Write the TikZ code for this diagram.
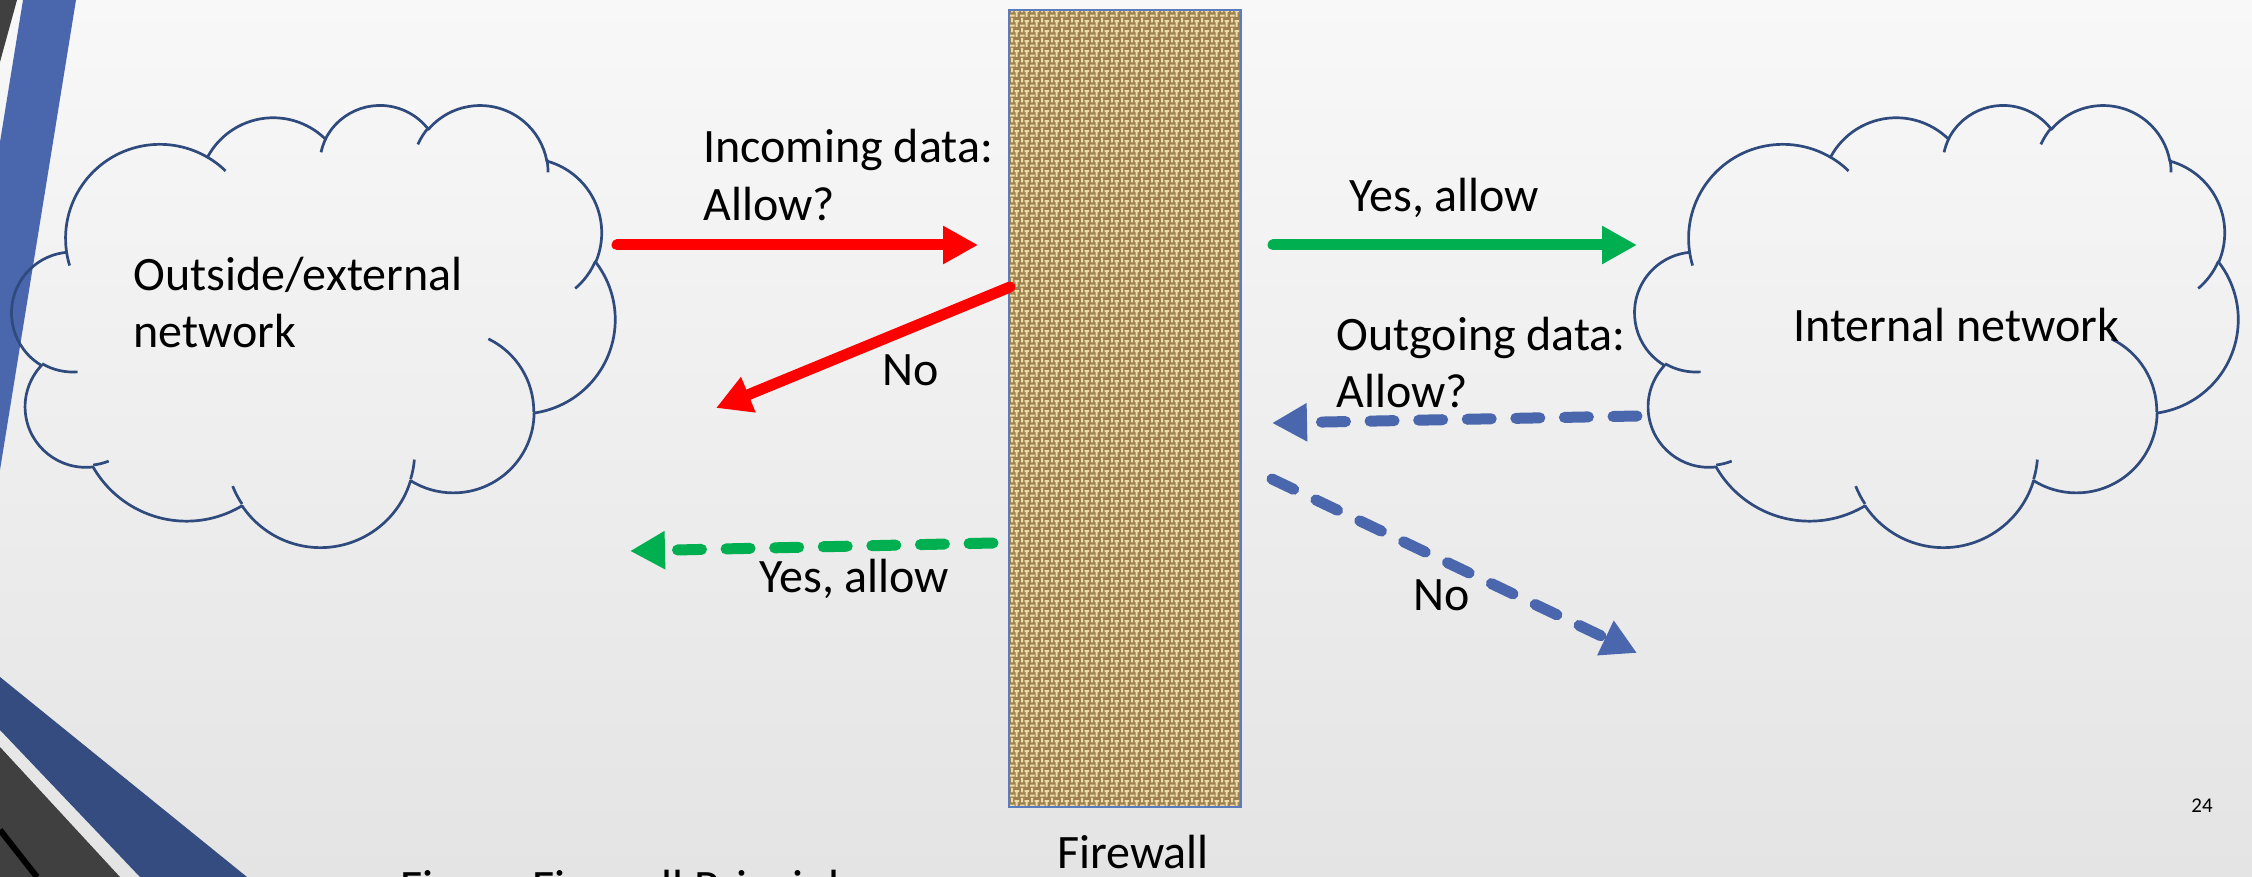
\documentclass[tikz,border=0pt]{standalone}
\usepackage{fontspec}
\setmainfont{Carlito}
\usetikzlibrary{arrows.meta,patterns}
\definecolor{bgtop}{RGB}{248,248,248}
\definecolor{bgbot}{RGB}{228,228,228}
\definecolor{decoblue}{RGB}{74,103,174}
\definecolor{decoblueD}{RGB}{53,76,128}
\definecolor{decogray}{RGB}{64,64,64}
\definecolor{cloudc}{RGB}{47,74,125}
\definecolor{arrred}{RGB}{255,0,0}
\definecolor{arrgreen}{RGB}{0,176,80}
\definecolor{arrblue}{RGB}{74,102,172}
\definecolor{fwborder}{RGB}{91,123,192}
\definecolor{burlapbase}{RGB}{158,128,80}
\definecolor{burlaplight}{RGB}{236,220,168}

\pgfdeclarepatternformonly{burlap}{\pgfqpoint{0pt}{0pt}}{\pgfqpoint{5pt}{5pt}}{\pgfqpoint{5pt}{5pt}}{%
  \pgfpathrectangle{\pgfqpoint{0pt}{0.2pt}}{\pgfqpoint{2.5pt}{1.1pt}}%
  \pgfpathrectangle{\pgfqpoint{2.5pt}{2.7pt}}{\pgfqpoint{2.5pt}{1.1pt}}%
  \pgfpathrectangle{\pgfqpoint{3.1pt}{0pt}}{\pgfqpoint{1.1pt}{2.5pt}}%
  \pgfpathrectangle{\pgfqpoint{0.6pt}{2.5pt}}{\pgfqpoint{1.1pt}{2.5pt}}%
  \pgfusepath{fill}%
}

\newcommand\cldarc[4]{%
  \pgfextra{%
    \pgfmathparse{atan2((#1)*sin(#3),(#2)*cos(#3))}\xdef\cldA{\pgfmathresult}%
    \pgfmathparse{atan2((#1)*sin((#3)+(#4)),(#2)*cos((#3)+(#4)))}\xdef\cldB{\pgfmathresult}%
    \pgfmathparse{\cldB-\cldA}\xdef\cldD{\pgfmathresult}%
    \pgfmathparse{ifthenelse(\cldD<0,\cldD+360,\cldD)}\xdef\cldD{\pgfmathresult}%
    \pgfmathparse{\cldA+\cldD}\xdef\cldB{\pgfmathresult}%
  }%
  arc[start angle=\cldA, end angle=\cldB, x radius=#1, y radius=#2]%
}

\newcommand\cloudshape{%
 \draw[cloudline] (39.00,143.70) \cldarc{67.53}{91.90}{-190.4874}{123.7805}
   \cldarc{53.33}{72.67}{-144.1024}{89.9452}
   \cldarc{43.65}{59.45}{-145.8079}{99.7230}
   \cldarc{48.57}{65.95}{-130.9861}{117.2417}
   \cldarc{53.33}{72.73}{-78.7089}{109.0269}
   \cldarc{67.75}{92.20}{-46.2673}{130.2690}
   \cldarc{57.85}{78.67}{0.6250}{114.0333}
   \cldarc{67.52}{92.15}{22.4516}{115.1726}
   \cldarc{77.20}{105.43}{66.2426}{75.7110}
   \cldarc{43.60}{59.18}{-274.9421}{146.7356}
   \cldarc{43.45}{59.45}{-246.8285}{152.5189} -- cycle;
 \draw[cloudline] (46.93,261.77) \cldarc{43.45}{59.45}{86.7420}{26.4295}
   (69.28,348.99) \cldarc{43.60}{59.18}{73.6105}{11.4475}
   (164.78,390.90) \cldarc{67.52}{92.15}{137.6242}{14.0811}
   (288.27,347.51) \cldarc{67.52}{92.15}{6.4533}{15.9984}
   (341.29,229.54) \cldarc{57.85}{78.67}{-70.2924}{70.9174}
   (417.98,153.54) \cldarc{53.33}{72.73}{30.3180}{27.7515}
   (383.24,54.26) \cldarc{48.57}{65.95}{-13.7443}{14.8589}
   (290.78,39.52) \cldarc{48.57}{65.95}{-149.1815}{18.1954}
   (221.41,47.20) \cldarc{43.65}{59.45}{-163.4943}{17.6864}
   (140.00,51.92) \cldarc{67.53}{91.90}{-66.7070}{12.3194}
   (41.27,157.89) \cldarc{67.53}{91.90}{157.6544}{11.8582};
}

\newcommand\mytwolines[2]{\vtop{\baselineskip=28.5pt\hbox{#1}\hbox{#2}}}

\begin{document}
\begin{tikzpicture}[x=0.5pt,y=-0.5pt,
  lbl/.style={font=\fontsize{24}{28.5}\selectfont, inner sep=0pt, anchor=base west, text=black},
  solidarrow/.style={line width=5.5pt, line cap=round, -{Triangle[length=17.5pt,width=18pt]}},
  dasharrow/.style={solidarrow, dash pattern=on 12pt off 12.3pt},
  cloudline/.style={draw=cloudc, line width=1.35pt, line join=round},
]
\clip (0,0) rectangle (2252,877);
\shade[top color=bgtop, bottom color=bgbot] (0,0) rectangle (2252,877);
% slide decoration
\fill[decogray] (0,0) -- (17,0) -- (0,62) -- cycle;
\fill[decoblue] (23,0) -- (76,0) -- (0,470) -- (0,142) -- cycle;
\fill[decoblueD] (0,677) -- (247,877) -- (140,877) -- (0,730) -- cycle;
\fill[decogray] (0,747) -- (120,877) -- (0,877) -- cycle;
\draw[black, line width=3pt] (0,830) -- (37,877);

% firewall
\node[draw=fwborder, line width=1pt, preaction={fill=burlapbase}, pattern=burlap, pattern color=burlaplight,
      minimum width=116pt, minimum height=398.5pt, inner sep=0pt, outer sep=0pt] (fw) at (1125,408.5) {};

% clouds
\begin{scope}[shift={(12,104)}, x=0.6979pt, y=-0.5116pt]
  \cloudshape
\end{scope}
\begin{scope}[shift={(1635,104)}, x=0.6979pt, y=-0.5116pt]
  \cloudshape
\end{scope}

% texts
\node[lbl] (outside) at (133,290) {\mytwolines{Outside/external}{network}};
\node[lbl] (internal) at (1793,341) {Internal network};
\node[lbl] (incoming) at (703,163) {\mytwolines{Incoming data:}{Allow?}};
\node[lbl] (noin) at (882,385) {No};
\node[lbl] (yesin) at (1349,212) {Yes, allow};
\node[lbl] (outgoing) at (1336,350) {\mytwolines{Outgoing data:}{Allow?}};
\node[lbl] (noout) at (1413,610) {No};
\node[lbl] (yesout) at (759,592) {Yes, allow};
\node[lbl, anchor=base] (fwlabel) at (1133,868) {Firewall};
\node[lbl, font=\fontsize{10.5}{12}\selectfont] (pagenum) at (2191,812) {24};
\node[lbl] (caption) at (400,903) {Figure Firewall Principle};

% arrow end points
\coordinate (inA) at (617,245);  \coordinate (inB) at (978,245);
\coordinate (noA) at (1010,287); \coordinate (noB) at (716,408);
\coordinate (yA) at (1273,245);  \coordinate (yB) at (1637,245);
\coordinate (oA) at (1637,416);  \coordinate (oB) at (1272,423);
\coordinate (nA) at (1272,479);  \coordinate (nB) at (1637,653);
\coordinate (gA) at (993,543);   \coordinate (gB) at (630,551);

\draw[solidarrow, arrred] (inA) -- (inB);
\draw[solidarrow, arrred] (noA) -- (noB);
\draw[solidarrow, arrgreen] (yA) -- (yB);
\draw[dasharrow, arrblue] (oA) -- (oB);
\draw[dasharrow, arrblue] (nA) -- (nB);
\draw[dasharrow, arrgreen] (gA) -- (gB);
\end{tikzpicture}
\end{document}
